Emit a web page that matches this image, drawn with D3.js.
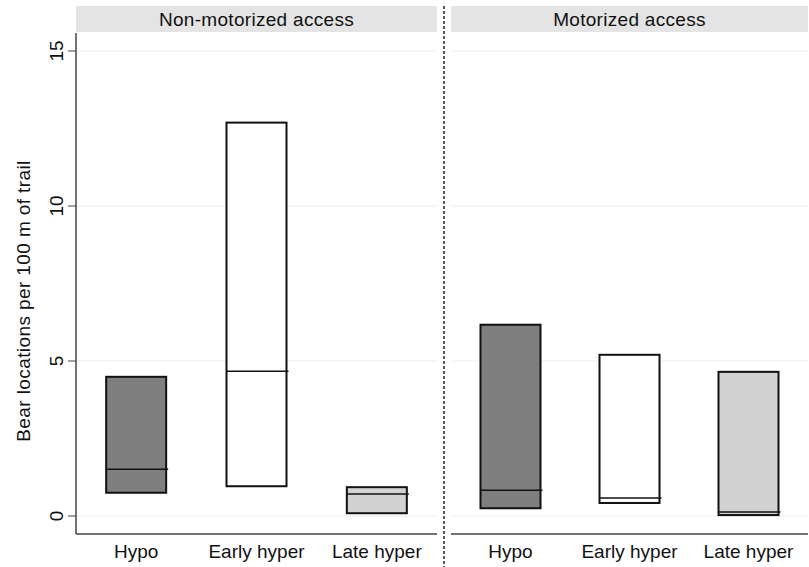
<!DOCTYPE html>
<html>
<head>
<meta charset="utf-8">
<script src="https://cdn.jsdelivr.net/npm/d3@7"></script>
<style>
  body { margin: 0; background: #fff; }
  svg { display: block; font-family: "Liberation Sans", Arial, sans-serif; }
</style>
</head>
<body>
<svg id="chart" width="809" height="567"></svg>
<script>
// Bear locations per 100 m of trail: interquartile boxes with medians
const panels = ["Non-motorized access", "Motorized access"];
const seasons = ["Hypo", "Early hyper", "Late hyper"];
const seasonFill = ["#7f7f7f", "#ffffff", "#d2d2d2"];
// [panel][season]
const lowerQ = [[0.75, 0.96, 0.09], [0.25, 0.42, 0.03]];
const medianV = [[1.51, 4.67, 0.71], [0.83, 0.58, 0.13]];
const upperQ = [[4.49, 12.69, 0.93], [6.17, 5.20, 4.65]];
const yTicks = [0, 5, 10, 15];
const yTitle = "Bear locations per 100 m of trail";

const svg = d3.select("#chart");

const plotTop = 33, plotBottom = 534;
const y = d3.scaleLinear().domain([0, 15]).range([516, 51]);

const panelX = [[76, 437], [451, 808]];

// vertical dashed divider between the panels
svg.append("line")
  .attr("x1", 444).attr("x2", 444)
  .attr("y1", 6).attr("y2", 580)
  .attr("stroke", "#222").attr("stroke-width", 1.5)
  .attr("stroke-dasharray", "3,2");

panels.forEach((name, p) => {
  const [x0, x1] = panelX[p];
  const g = svg.append("g");
  const x = d3.scaleBand().domain(seasons).range([x0, x1]).padding(0);
  const bw = 60;

  // header strip
  g.append("rect")
    .attr("x", x0).attr("y", 6)
    .attr("width", x1 - x0).attr("height", 26)
    .attr("fill", "#e4e4e4");
  g.append("text")
    .attr("x", (x0 + x1) / 2).attr("y", 25.5)
    .attr("text-anchor", "middle")
    .attr("font-size", 19).attr("letter-spacing", 0.3).attr("fill", "#111")
    .text(name);

  // gridlines
  g.selectAll(".grid").data(yTicks).enter().append("line")
    .attr("x1", x0 + 1).attr("x2", x1)
    .attr("y1", d => y(d)).attr("y2", d => y(d))
    .attr("stroke", "#ececec").attr("stroke-width", 1);

  // bottom axis line
  g.append("line")
    .attr("x1", x0).attr("x2", x1)
    .attr("y1", plotBottom).attr("y2", plotBottom)
    .attr("stroke", "#444").attr("stroke-width", 1.5);

  // category labels
  g.selectAll(".xl").data(seasons).enter().append("text")
    .attr("x", d => x(d) + x.bandwidth() / 2)
    .attr("y", 558)
    .attr("text-anchor", "middle")
    .attr("font-size", 19).attr("fill", "#111")
    .text(d => d);

  // boxes
  seasons.forEach((s, i) => {
    const cx = x(s) + x.bandwidth() / 2;
    g.append("rect")
      .attr("x", cx - bw / 2)
      .attr("y", y(upperQ[p][i]))
      .attr("width", bw)
      .attr("height", y(lowerQ[p][i]) - y(upperQ[p][i]))
      .attr("fill", seasonFill[i])
      .attr("stroke", "#111").attr("stroke-width", 2);
    g.append("line")
      .attr("x1", cx - bw / 2).attr("x2", cx + bw / 2 + 2)
      .attr("y1", y(medianV[p][i])).attr("y2", y(medianV[p][i]))
      .attr("stroke", "#111").attr("stroke-width", 1.5);
  });
});

// y axis on the left panel
const yAxisG = svg.append("g").attr("transform", "translate(76,0)");
yAxisG.append("line")
  .attr("x1", 0).attr("x2", 0)
  .attr("y1", plotTop).attr("y2", plotBottom)
  .attr("stroke", "#444").attr("stroke-width", 1.5);
yAxisG.selectAll(".tick").data(yTicks).enter().append("line")
  .attr("x1", -8).attr("x2", 0)
  .attr("y1", d => y(d)).attr("y2", d => y(d))
  .attr("stroke", "#444").attr("stroke-width", 1);
yAxisG.selectAll(".tl").data(yTicks).enter().append("text")
  .attr("transform", d => `translate(-13,${y(d)}) rotate(-90)`)
  .attr("text-anchor", "middle")
  .attr("font-size", 19).attr("fill", "#111")
  .text(d => d);

svg.append("text")
  .attr("transform", "translate(30,301) rotate(-90)")
  .attr("text-anchor", "middle")
  .attr("font-size", 19).attr("letter-spacing", 0.4).attr("fill", "#111")
  .text(yTitle);
</script>
</body>
</html>
